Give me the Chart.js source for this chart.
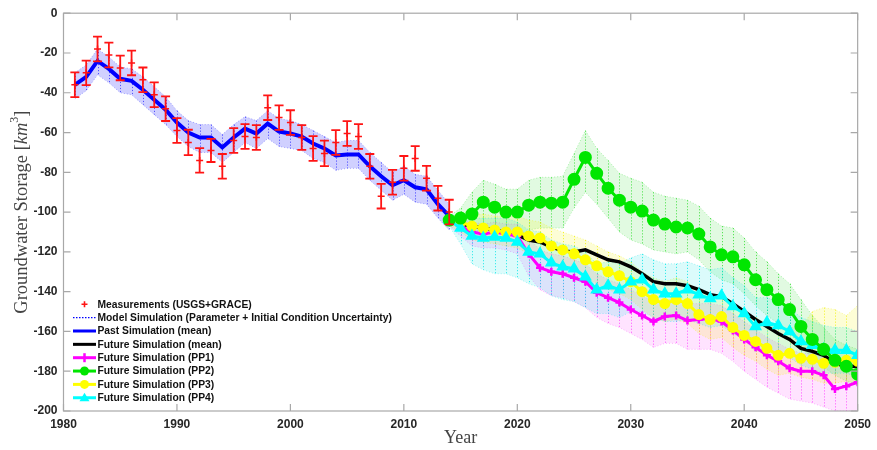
<!DOCTYPE html>
<html><head><meta charset="utf-8">
<script src="https://cdn.jsdelivr.net/npm/chart.js@4.4.1/dist/chart.umd.min.js"></script>
<style>html,body{margin:0;padding:0;background:#fff;}#wrap{width:877px;height:450px;}</style>
</head><body><div id="wrap"><canvas id="c" width="877" height="450"></canvas></div>
<script>
// ---------- DATA ----------
const xTicks = [1980,1990,2000,2010,2020,2030,2040,2050];
const yTicks = [0,-20,-40,-60,-80,-100,-120,-140,-160,-180,-200];

const pastYears = [1981,1982,1983,1984,1985,1986,1987,1988,1989,1990,1991,1992,1993,1994,1995,1996,1997,1998,1999,2000,2001,2002,2003,2004,2005,2006,2007,2008,2009,2010,2011,2012,2013,2014];
const measurements = [-36,-30,-18,-21,-27.5,-25,-33.5,-41,-48,-59,-65,-74,-69,-77,-64,-62,-62.5,-47.5,-52.5,-55,-62.5,-68,-70.5,-65,-60.5,-62,-77,-92,-85,-78,-73,-83,-93,-100];
const measErr = [6.2,6.2,6.2,6.2,6.2,6.2,6.2,6.2,6.2,6.2,6.4,6.2,5.8,6.2,6.2,6.2,6.2,6.2,6.2,6.2,6.2,6.2,6.4,6.2,6.2,6.2,6.2,6.2,6.2,6.2,6.2,6.2,6.2,6.2];
const pastMean = [-36,-32,-24,-28,-33,-34,-38.5,-43.5,-48.5,-55,-60,-62.5,-62.5,-67.5,-62.5,-58,-60.5,-55.5,-59.5,-60.5,-62,-65.5,-68,-71.5,-71,-71,-77,-82,-86.5,-84,-87.5,-88.5,-96,-102];
const pastUpper = [-30,-26,-18,-22,-27,-28,-32,-37,-42,-49,-54,-56,-56,-61,-56,-52,-54,-49,-53,-54,-56,-59,-62,-65,-64,-64,-70,-75,-80,-77,-81,-82,-89,-96];
const pastLower = [-43,-39,-31,-35,-40,-41,-46,-51,-56,-62,-67,-70,-70,-75,-70,-65,-68,-63,-67,-68,-69,-73,-75,-79,-78,-78,-84,-89,-94,-91,-95,-96,-103,-109];

const futureYears = [2014,2015,2016,2017,2018,2019,2020,2021,2022,2023,2024,2025,2026,2027,2028,2029,2030,2031,2032,2033,2034,2035,2036,2037,2038,2039,2040,2041,2042,2043,2044,2045,2046,2047,2048,2049,2050];
const futureMean = [-104,-106,-107,-108,-109,-110,-111.5,-114,-115,-117.5,-119.5,-120,-119,-121.5,-124,-125,-127.5,-131,-135,-136,-136,-137,-139,-141.5,-142.5,-146,-150,-154,-157.5,-161,-164,-168.5,-170,-172,-176,-177.5,-177.5];

const pp1 = [-104,-107,-110,-111,-110,-111,-112,-121,-128,-130,-131,-133,-135,-140.5,-143,-145.5,-149,-152,-155,-152.5,-152,-154.5,-154,-153.5,-155,-159.5,-164,-168,-172,-175,-178.5,-180,-180,-182,-189,-187.5,-185.5];
const pp1Upper = [-102,-104,-105,-106,-105,-106,-106,-113,-119,-121,-122,-124,-126,-131,-134,-136,-139,-142,-145,-144,-144,-146,-146,-146,-147,-151,-155,-159,-163,-166,-169,-171,-171,-173,-178,-177,-176];
const pp1Lower = [-107,-112,-117,-118,-118,-119,-121,-132,-139,-142,-143,-145,-148,-153,-156,-158,-161,-164,-168,-166,-166,-169,-169,-169,-171,-175,-180,-184,-188,-191,-194,-195,-196,-198,-200,-200,-200];

const pp2 = [-104,-103,-101,-95,-97.5,-100,-100,-96.5,-95,-95.5,-95,-83.5,-72.5,-80.5,-88,-94,-97.5,-99.5,-104,-106,-107.5,-108,-111,-117.5,-121.5,-122.5,-126.5,-134,-139,-144,-149,-157.5,-164,-169,-174.5,-177.5,-181.5];
const pp2Upper = [-102,-98,-90,-84,-86,-88.5,-88.5,-84,-82.5,-82.5,-82,-70.5,-59,-68,-74,-80.5,-83,-85,-90,-92,-93,-94,-97,-103,-107,-108,-113,-120,-125,-131,-136,-144,-152,-158,-164,-167,-169];
const pp2Lower = [-106,-108,-112,-107,-110,-112,-112,-109,-108,-108,-108,-98,-90,-96,-103,-110,-114,-116,-119,-120,-121,-120,-124,-130,-134,-136,-141,-147,-152,-156,-161,-167,-174,-178,-182,-185,-187];

const pp3 = [-104,-105,-107,-108,-109,-110,-110,-112,-113,-117,-119,-121,-124,-127,-130,-132,-135,-140,-144,-146,-144,-146,-151.5,-154,-152.5,-158,-162,-165,-168.5,-172,-171,-173.5,-174,-176,-175.5,-174.5,-175];
const pp3Upper = [-102,-101,-101,-101,-102,-102,-102,-104,-105,-108,-110,-112,-114,-117,-120,-122,-125,-130,-133,-135,-133,-135,-140,-142,-141,-146,-150,-153,-156,-159,-158,-158,-150,-148,-149,-152,-147];
const pp3Lower = [-107,-110,-114,-115,-116,-117,-118,-121,-122,-126,-128,-130,-133,-136,-139,-141,-144,-149,-153,-155,-154,-156,-161,-164,-163,-168,-172,-175,-179,-182,-181,-183,-184,-186,-186,-185,-186];

const pp4 = [-104,-108,-112,-113,-112.5,-113,-115,-120,-121,-125.5,-127.5,-128.5,-132.5,-139,-137,-139,-135,-134,-139,-141,-141,-139,-141.5,-143.5,-142,-147.5,-151,-157.5,-155.5,-157,-160,-165,-167,-169,-169.5,-169.5,-172];
const pp4Upper = [-101,-102,-103,-103,-103,-103,-105,-109,-110,-114,-116,-117,-120,-126,-125,-126,-123,-121,-124,-126,-126,-125,-127,-129,-128,-133,-137,-143,-143,-145,-148,-153,-155,-157,-158,-158,-160];
const pp4Lower = [-107,-116,-126,-129,-131,-131,-133,-136,-138,-142,-144,-145,-148,-151,-151,-153,-150,-150,-153,-155,-155,-154,-156,-158,-157,-161,-164,-170,-169,-171,-173,-177,-179,-181,-181,-181,-183];

const legendLabels = ['Measurements (USGS+GRACE)','Model Simulation (Parameter + Initial Condition Uncertainty)','Past Simulation (mean)','Future Simulation (mean)','Future Simulation (PP1)','Future Simulation (PP2)','Future Simulation (PP3)','Future Simulation (PP4)'];

// ---------- BUILD ----------
const xy = (xs, ys) => xs.map((x, i) => ({x: x, y: ys[i]}));
const BLUE='rgb(0,0,255)', MAG='rgb(255,0,255)', GRN='rgb(0,230,0)', YEL='rgb(255,255,0)', CYN='rgb(0,255,255)';

function bandSets(xs, up, lo, rgb, alpha, order){
  return [
    {data: xy(xs, up), borderColor: 'rgba('+rgb+',0.45)', borderWidth: 0.8, borderDash:[1,2], pointRadius: 0, fill: '+1', backgroundColor: 'rgba('+rgb+','+alpha+')', order: order},
    {data: xy(xs, lo), borderColor: 'rgba('+rgb+',0.45)', borderWidth: 0.8, borderDash:[1,2], pointRadius: 0, fill: false, order: order}
  ];
}
const groups = [
  {xs: pastYears, up: pastUpper, lo: pastLower, rgb: '40,40,255', a: 0.22},
  {xs: futureYears, up: pp1Upper, lo: pp1Lower, rgb: '255,60,255', a: 0.14},
  {xs: futureYears, up: pp2Upper, lo: pp2Lower, rgb: '40,220,40', a: 0.14},
  {xs: futureYears, up: pp3Upper, lo: pp3Lower, rgb: '240,240,0', a: 0.16},
  {xs: futureYears, up: pp4Upper, lo: pp4Lower, rgb: '0,230,230', a: 0.14}
];
let datasets = [];
groups.forEach((g, i) => { datasets = datasets.concat(bandSets(g.xs, g.up, g.lo, g.rgb, g.a, 100 - i)); });

datasets.push({label: legendLabels[2], data: xy(pastYears, pastMean), borderColor: BLUE, borderWidth: 4, pointRadius: 0, fill: false, order: 20});
datasets.push({label: legendLabels[0], data: xy(pastYears, measurements), showLine: false, pointStyle: 'cross', pointRadius: 3.5, borderColor: 'rgb(255,20,20)', pointBorderWidth: 1.5, fill: false, order: 19});
datasets.push({label: legendLabels[3], data: xy(futureYears, futureMean), borderColor: '#000', borderWidth: 3.5, pointRadius: 0, fill: false, order: 15});
datasets.push({label: legendLabels[4], data: xy(futureYears, pp1), borderColor: MAG, backgroundColor: MAG, borderWidth: 3, pointStyle: 'cross', pointRadius: 4, pointBorderWidth: 2.5, fill: false, order: 14});
datasets.push({label: legendLabels[6], data: xy(futureYears, pp3), borderColor: YEL, backgroundColor: YEL, borderWidth: 3, pointStyle: 'circle', pointRadius: 4, fill: false, order: 13});
datasets.push({label: legendLabels[7], data: xy(futureYears, pp4), borderColor: CYN, backgroundColor: CYN, borderWidth: 3, pointStyle: 'triangle', pointRadius: 4.5, fill: false, order: 12});
datasets.push({label: legendLabels[5], data: xy(futureYears, pp2), borderColor: GRN, backgroundColor: GRN, borderWidth: 3, pointStyle: 'circle', pointRadius: 5, fill: false, order: 11});

// ---------- PLUGINS ----------
const spreadPlugin = {
  id: 'spread',
  beforeDatasetsDraw(chart){
    const {ctx, chartArea: a, scales: {x, y}} = chart;
    ctx.save();
    ctx.beginPath(); ctx.rect(a.left, a.top, a.width, a.height); ctx.clip();
    ctx.setLineDash([1.2, 1.8]);
    ctx.lineWidth = 1;
    groups.forEach(g => {
      ctx.strokeStyle = 'rgba(' + g.rgb + ',0.75)';
      g.xs.forEach((yr, i) => {
        const px = Math.round(x.getPixelForValue(yr)) + 0.5;
        ctx.beginPath();
        ctx.moveTo(px, y.getPixelForValue(g.up[i]));
        ctx.lineTo(px, y.getPixelForValue(g.lo[i]));
        ctx.stroke();
      });
    });
    ctx.restore();
  }
};
const errPlugin = {
  id: 'errbars',
  afterDatasetsDraw(chart){
    const {ctx, scales: {x, y}} = chart;
    ctx.save();
    ctx.strokeStyle = 'rgb(255,20,20)';
    ctx.lineWidth = 1.8;
    pastYears.forEach((yr, i) => {
      const px = x.getPixelForValue(yr);
      const t = y.getPixelForValue(measurements[i] + measErr[i]);
      const b = y.getPixelForValue(measurements[i] - measErr[i]);
      ctx.beginPath();
      ctx.moveTo(px, t); ctx.lineTo(px, b);
      ctx.moveTo(px - 4.5, t); ctx.lineTo(px + 4.5, t);
      ctx.moveTo(px - 4.5, b); ctx.lineTo(px + 4.5, b);
      ctx.stroke();
    });
    ctx.restore();
  }
};
const decoPlugin = {
  id: 'deco',
  afterDraw(chart){
    const {ctx, chartArea: a, scales: {x, y}} = chart;
    ctx.save();
    ctx.strokeStyle = '#a8a8a8';
    ctx.lineWidth = 1.2;
    ctx.strokeRect(a.left, a.top, a.right - a.left, a.bottom - a.top);
    ctx.beginPath();
    xTicks.forEach(v => { const p = x.getPixelForValue(v); ctx.moveTo(p, a.bottom); ctx.lineTo(p, a.bottom - 7); ctx.moveTo(p, a.top); ctx.lineTo(p, a.top + 7); });
    yTicks.forEach(v => { const p = y.getPixelForValue(v); ctx.moveTo(a.left, p); ctx.lineTo(a.left + 7, p); ctx.moveTo(a.right, p); ctx.lineTo(a.right - 7, p); });
    ctx.stroke();

    ctx.fillStyle = '#444';
    ctx.textBaseline = 'middle';
    ctx.font = '18px "Liberation Serif"';
    ctx.textAlign = 'center';
    ctx.fillText('Year', (a.left + a.right) / 2, 438);
    ctx.save();
    ctx.translate(22, (a.top + a.bottom) / 2);
    ctx.rotate(-Math.PI / 2);
    const parts = [
      {t: 'Groundwater Storage [', f: '18.5px "Liberation Serif"', dy: 0},
      {t: 'km', f: 'italic 18.5px "Liberation Serif"', dy: 0},
      {t: '3', f: '12px "Liberation Serif"', dy: -7},
      {t: ']', f: '18.5px "Liberation Serif"', dy: 0}
    ];
    let total = 0;
    parts.forEach(p => { ctx.font = p.f; p.w = ctx.measureText(p.t).width; total += p.w; });
    let cx = -total / 2;
    ctx.textAlign = 'left';
    parts.forEach(p => { ctx.font = p.f; ctx.fillText(p.t, cx, p.dy); cx += p.w; });
    ctx.restore();

    const lx0 = 73, lx1 = 96, tx = 97.5, ly0 = 304.3, dy = 13.35;
    const rows = [
      {type: 'meas'}, {type: 'dot', c: BLUE}, {type: 'line', c: BLUE}, {type: 'line', c: '#000'},
      {type: 'line', c: MAG, m: 'cross'}, {type: 'line', c: GRN, m: 'circle'}, {type: 'line', c: YEL, m: 'circle'}, {type: 'line', c: CYN, m: 'tri'}
    ];
    rows.forEach((r, i) => {
      const yy = ly0 + i * dy;
      const mx = (lx0 + lx1) / 2;
      if (r.type === 'meas') {
        ctx.strokeStyle = 'rgb(255,20,20)'; ctx.lineWidth = 1.6;
        ctx.beginPath(); ctx.moveTo(mx - 3, yy); ctx.lineTo(mx + 3, yy); ctx.moveTo(mx, yy - 3); ctx.lineTo(mx, yy + 3); ctx.stroke();
      } else if (r.type === 'dot') {
        ctx.strokeStyle = r.c; ctx.lineWidth = 1.2; ctx.setLineDash([1.5, 1.5]);
        ctx.beginPath(); ctx.moveTo(lx0, yy); ctx.lineTo(lx1, yy); ctx.stroke(); ctx.setLineDash([]);
      } else {
        ctx.strokeStyle = r.c; ctx.lineWidth = 3;
        ctx.beginPath(); ctx.moveTo(lx0, yy); ctx.lineTo(lx1, yy); ctx.stroke();
        ctx.fillStyle = r.c;
        if (r.m === 'cross') { ctx.lineWidth = 2.5; ctx.beginPath(); ctx.moveTo(mx, yy - 4.5); ctx.lineTo(mx, yy + 4.5); ctx.stroke(); }
        if (r.m === 'circle') { ctx.beginPath(); ctx.arc(mx, yy, 4.5, 0, Math.PI * 2); ctx.fill(); }
        if (r.m === 'tri') { ctx.beginPath(); ctx.moveTo(mx, yy - 5); ctx.lineTo(mx + 5, yy + 3.5); ctx.lineTo(mx - 5, yy + 3.5); ctx.closePath(); ctx.fill(); }
      }
      ctx.fillStyle = '#111';
      ctx.font = 'bold 10.3px "Liberation Sans"';
      ctx.textAlign = 'left';
      ctx.textBaseline = 'middle';
      ctx.fillText(legendLabels[i], tx, yy + 0.5);
    });
    ctx.restore();
  }
};

// ---------- CHART ----------
new Chart(document.getElementById('c'), {
  type: 'line',
  data: {datasets: datasets},
  plugins: [spreadPlugin, errPlugin, decoPlugin],
  options: {
    responsive: false, animation: false, devicePixelRatio: 1,
    layout: {padding: {top: 13, right: 13, left: 0, bottom: 0}},
    elements: {line: {tension: 0}},
    plugins: {legend: {display: false}, tooltip: {enabled: false}},
    scales: {
      x: {
        type: 'linear', min: 1980, max: 2050,
        afterBuildTicks: s => { s.ticks = xTicks.map(v => ({value: v})); },
        afterFit: s => { s.height = 39; },
        grid: {display: false, drawTicks: false}, border: {display: false},
        ticks: {autoSkip: false, maxRotation: 0, padding: 6, color: '#262626', font: {family: 'Liberation Sans', size: 12, weight: 'bold'}, callback: v => String(v)}
      },
      y: {
        type: 'linear', min: -200, max: 0,
        afterBuildTicks: s => { s.ticks = yTicks.map(v => ({value: v})); },
        afterFit: s => { s.width = 63.5; },
        grid: {display: false, drawTicks: false}, border: {display: false},
        ticks: {autoSkip: false, padding: 6, color: '#262626', font: {family: 'Liberation Sans', size: 12, weight: 'bold'}, callback: v => String(v)}
      }
    }
  }
});
</script>
</body></html>
